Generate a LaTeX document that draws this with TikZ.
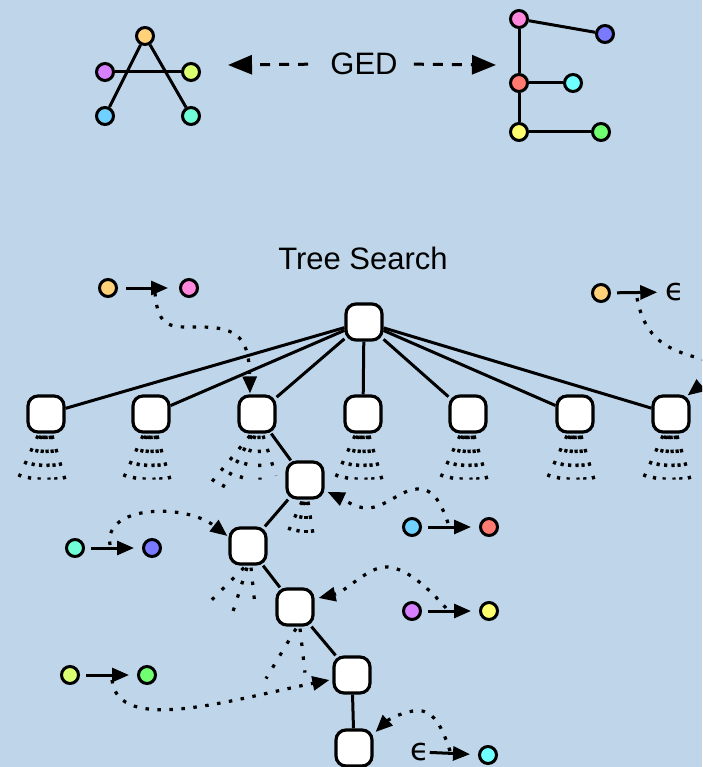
\documentclass[tikz,border=0pt]{standalone}
\usepackage{fontspec}
\setmainfont{Liberation Sans}
\newfontfamily\symfont{DejaVu Sans}
\usetikzlibrary{arrows.meta,calc}

\definecolor{bg}{RGB}{191,214,234}
\definecolor{cOrange}{RGB}{255,210,122}
\definecolor{cPurple}{RGB}{214,128,255}
\definecolor{cLime}{RGB}{218,255,112}
\definecolor{cBlue}{RGB}{112,208,255}
\definecolor{cTeal}{RGB}{112,255,214}
\definecolor{cPink}{RGB}{255,136,221}
\definecolor{cViolet}{RGB}{122,122,255}
\definecolor{cRed}{RGB}{255,122,112}
\definecolor{cCyan}{RGB}{112,255,255}
\definecolor{cYellow}{RGB}{255,255,112}
\definecolor{cGreen}{RGB}{112,255,112}

\begin{document}
\begin{tikzpicture}[x=1pt,y=-1pt,
  vtx/.style={circle,draw,line width=3pt,minimum size=17pt,inner sep=0pt},
  box/.style={rounded corners=10pt,draw,line width=3.2pt,fill=white,minimum size=36pt,inner sep=0pt},
  edge/.style={line width=3pt},
  map/.style={line width=3pt,-{Triangle[length=17pt,width=14pt]},shorten <=6pt,shorten >=8pt},
  hop/.style={line width=3.2pt,dash pattern=on 3.5pt off 8.5pt,-{Triangle[length=17pt,width=14pt]}},
  fan/.style={line width=3.2pt,dash pattern=on 3.5pt off 10.5pt},
  ged/.style={line width=3pt,dash pattern=on 10pt off 9pt,-{Triangle[length=24pt,width=19pt]}},
  lbl/.style={font=\fontsize{31}{31}\selectfont,inner sep=0pt},
  eps/.style={font=\symfont\fontsize{31}{31}\selectfont,inner sep=0pt},
]
\useasboundingbox (0,0) rectangle (702,767);
\fill[bg] (0,0) rectangle (702,767);
\clip (0,0) rectangle (702,767);

% ---------- graph A ----------
\node[vtx,fill=cOrange] (a1) at (145,36) {};
\node[vtx,fill=cPurple] (a2) at (105,72) {};
\node[vtx,fill=cLime]   (a3) at (191,72) {};
\node[vtx,fill=cBlue]   (a4) at (105,116) {};
\node[vtx,fill=cTeal]   (a5) at (191,116) {};
\draw[edge] (a1) -- (a4);
\draw[edge] (a1) -- (a5);
\draw[edge] (a2) -- (a3);

% ---------- graph E ----------
\node[vtx,fill=cPink]   (e1) at (519,19) {};
\node[vtx,fill=cViolet] (e2) at (605,34) {};
\node[vtx,fill=cRed]    (e3) at (519,83) {};
\node[vtx,fill=cCyan]   (e4) at (573,83) {};
\node[vtx,fill=cYellow] (e5) at (519,132) {};
\node[vtx,fill=cGreen]  (e6) at (601,132) {};
\draw[edge] (e1) -- (e2);
\draw[edge] (e1) -- (e3);
\draw[edge] (e3) -- (e4);
\draw[edge] (e3) -- (e5);
\draw[edge] (e5) -- (e6);

% ---------- edit distance ----------
\node[lbl] (ged) at (364,64) {GED};
\coordinate (gl) at (228,65);
\coordinate (gr) at (496,65);
\draw[ged,shorten <=22pt] (ged.west) -- (gl);
\draw[ged,shorten <=16pt] (ged.east) -- (gr);

% ---------- search tree ----------
\node[lbl] (title) at (363,258) {Tree Search};

\node[box] (root) at (364,322) {};
\node[box] (n1) at (46,414) {};
\node[box] (n2) at (151,414) {};
\node[box] (n3) at (257,414) {};
\node[box] (n4) at (363,414) {};
\node[box] (n5) at (468,414) {};
\node[box] (n6) at (575,414) {};
\node[box] (n7) at (671,414) {};
\node[box] (m1) at (305,480) {};
\node[box] (m2) at (248,546) {};
\node[box] (m3) at (295,607) {};
\node[box] (m4) at (352,675) {};
\node[box] (m5) at (354,748) {};

\foreach \i in {1,...,7} \draw[edge] (root) -- (n\i);
\draw[edge] (n3) -- (m1);
\draw[edge] (m1) -- (m2);
\draw[edge] (m2) -- (m3);
\draw[edge] (m3) -- (m4);
\draw[edge] (m4) -- (m5);

% unexplored branches below the first level
\foreach \n in {n1,n2,n4,n5,n6,n7}
  \foreach \s/\e/\h in {-8/-30/50,-5/-17/46,-2/-7/46,0/3/46,4/10/46,6/19/46}
    \draw[fan] ($(\n.south)+(\s,2)$) -- ($(\n.south)+(\e,\h)$);
\foreach \s/\e/\h in {-7/-45/48,-5/-35/55,-2/-19/54,2/3/46,6/19/42}
  \draw[fan] ($(n3.south)+(\s,2)$) -- ($(n3.south)+(\e,\h)$);
\foreach \s/\e/\h in {-3/-20/39,-1/-8/36,1/1/36,3/9/41}
  \draw[fan] ($(m1.south)+(\s,2)$) -- ($(m1.south)+(\e,\h)$);
\foreach \s/\e/\h in {-4/-42/40,-1/-16/49,3/7/40}
  \draw[fan] ($(m2.south)+(\s,2)$) -- ($(m2.south)+(\e,\h)$);
\foreach \s/\e/\h in {1/-29/52,5/10/46}
  \draw[fan] ($(m3.south)+(\s,2)$) -- ($(m3.south)+(\e,\h)$);

% ---------- node mappings ----------
\node[vtx,fill=cOrange] (p1a) at (108,288) {};
\node[vtx,fill=cPink]   (p1b) at (189,288) {};
\draw[map,shorten <=8pt,shorten >=11pt] (p1a) -- (p1b);

\node[vtx,fill=cOrange] (p2a) at (601,293) {};
\node[eps] (p2b) at (675,292) {ϵ};
\draw[map] (p2a) -- (p2b);

\node[vtx,fill=cBlue] (p3a) at (412,527) {};
\node[vtx,fill=cRed]  (p3b) at (489,527) {};
\draw[map] (p3a) -- (p3b);

\node[vtx,fill=cTeal]   (p4a) at (75,548) {};
\node[vtx,fill=cViolet] (p4b) at (152,548) {};
\draw[map] (p4a) -- (p4b);

\node[vtx,fill=cPurple] (p5a) at (412,611) {};
\node[vtx,fill=cYellow] (p5b) at (489,611) {};
\draw[map] (p5a) -- (p5b);

\node[vtx,fill=cLime]  (p6a) at (70,675) {};
\node[vtx,fill=cGreen] (p6b) at (147,675) {};
\draw[map] (p6a) -- (p6b);

\node[eps] (p7a) at (420,752) {ϵ};
\node[vtx,fill=cCyan] (p7b) at (488,755) {};
\draw[map,shorten <=0pt] (p7a) -- (p7b);

% ---------- where each mapping is applied ----------
\coordinate (h1) at (155,293);
\draw[hop] (h1) .. controls (158,330) and (172,327) .. (200,327)
  .. controls (240,327) and (249,340) .. ($(n3.north)+(-7,-1)$);

\coordinate (h2) at (637,298);
\draw[hop] (h2) .. controls (645,340) and (668,350) .. (702,359)
  .. controls (725,366) and (705,382) .. ($(n7.north east)+(-3,1)$);

\coordinate (h3) at (448,523);
\draw[hop] (h3) .. controls (440,500) and (432,488) .. (417,489)
  .. controls (400,490) and (385,508) .. (367,508)
  .. controls (355,508) and (345,500) .. ($(m1.east)+(3,12)$);

\coordinate (h4) at (110,545);
\draw[hop] (h4) .. controls (103,505) and (185,503) .. ($(m2.west)+(-1,-10)$);

\coordinate (h5) at (446,608);
\draw[hop] (h5) .. controls (430,590) and (405,565) .. (383,567)
  .. controls (365,570) and (345,592) .. ($(m3.east)+(4,-9)$);

\coordinate (h6) at (112,680);
\draw[hop] (h6) .. controls (118,735) and (230,700) .. ($(m4.west)+(-3,5)$);

\coordinate (h7) at (450,751);
\draw[hop] (h7) .. controls (440,720) and (430,708) .. (413,711)
  .. controls (400,713) and (388,720) .. ($(m5.east)+(2,-16)$);
\end{tikzpicture}
\end{document}
